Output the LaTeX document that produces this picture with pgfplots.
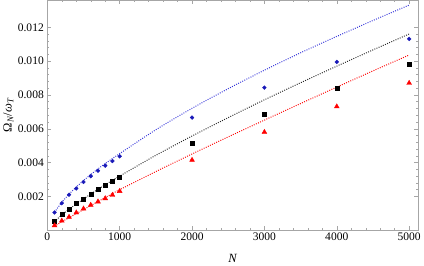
\documentclass[border=0pt]{standalone}
\usepackage{fontspec}
\setmainfont{Liberation Serif}
\usepackage{pgfplots}
\pgfplotsset{compat=1.18}
\definecolor{myblue}{rgb}{0.1,0.1,0.72}
\definecolor{lblue}{rgb}{0.2,0.2,0.85}
\begin{document}
\begin{tikzpicture}
\begin{axis}[
  scale only axis,
  width=370pt, height=229pt,
  xmin=0, xmax=5125, ymin=0.00003, ymax=0.0136,
  xtick={0,1000,2000,3000,4000,5000},
  ytick={0.002,0.004,0.006,0.008,0.010,0.012},
  minor x tick num=4, minor y tick num=4,
  major tick length=4pt, minor tick length=2pt,
  axis line style={gray!70}, every tick/.style={gray!70},
  tick align=inside,
  /pgf/number format/assume math mode=true,
  xticklabel style={/pgf/number format/1000 sep={}},
  yticklabel style={/pgf/number format/.cd, fixed, fixed zerofill, precision=3},
  scaled y ticks=false,
  tick label style={font=\fontsize{11.5}{13}\selectfont},
  label style={font=\fontsize{12.5}{14}\selectfont},
  xlabel={\textit{N}},
  ylabel={Ω\textsubscript{\textit{N}}/\textit{ω}\textsubscript{\textit{T}}},
  xlabel style={at={(axis description cs:0.5,-0.09)}, anchor=north},
  ylabel style={at={(axis description cs:-0.105,0.5)}, anchor=center},
  clip=false,
  fitline/.style={line width=1pt, dash pattern=on 0.9pt off 1.4pt, smooth},
]
% fitted dotted curves
\addplot[lblue, fitline] coordinates {
(100,0.00107) (200,0.00165) (300,0.00213) (400,0.00255) (500,0.00294) (600,0.00329) (700,0.00363) (800,0.00394) (900,0.00424) (1000,0.00453) (1500,0.00594) (2000,0.00721) (2500,0.00837) (3000,0.00946) (3500,0.01049) (4000,0.01146) (4500,0.0124) (5000,0.01331)};
\addplot[black!85, fitline] coordinates {
(100,0.00052) (200,0.0009) (300,0.00124) (400,0.00155) (500,0.00185) (600,0.00214) (700,0.00242) (800,0.00269) (900,0.00295) (1000,0.0032) (1500,0.00443) (2000,0.00557) (2500,0.00666) (3000,0.00771) (3500,0.00872) (4000,0.0097) (4500,0.01066) (5000,0.0116)};
\addplot[red, fitline] coordinates {
(100,0.00024) (200,0.0005) (300,0.00074) (400,0.00098) (500,0.00122) (600,0.00146) (700,0.0017) (800,0.00193) (900,0.00217) (1000,0.0024) (1500,0.00347) (2000,0.00451) (2500,0.00552) (3000,0.00651) (3500,0.00749) (4000,0.00846) (4500,0.00942) (5000,0.01036)};
% data points
\addplot[only marks, mark=*, mark size=1.9pt, color=myblue] coordinates {
(100,0.00105) (200,0.0016) (300,0.0021) (400,0.00247) (500,0.00285) (600,0.0032) (700,0.00352) (800,0.00382) (900,0.00409) (1000,0.00437) (2000,0.00666) (3000,0.00843) (4000,0.00995) (5000,0.01131)};
\addplot[only marks, mark=square*, mark size=2pt, color=black] coordinates {
(100,0.00056) (200,0.00092) (300,0.00125) (400,0.00157) (500,0.00184) (600,0.00214) (700,0.0024) (800,0.00265) (900,0.00287) (1000,0.00312) (2000,0.00514) (3000,0.00687) (4000,0.00841) (5000,0.00979)};
\addplot[only marks, mark=triangle*, mark size=2.8pt, color=red] coordinates {
(100,0.00028) (200,0.00056) (300,0.00078) (400,0.00104) (500,0.00127) (600,0.00149) (700,0.00169) (800,0.00188) (900,0.00208) (1000,0.00231) (2000,0.00415) (3000,0.0058) (4000,0.00731) (5000,0.0087)};
\end{axis}
\end{tikzpicture}
\end{document}
